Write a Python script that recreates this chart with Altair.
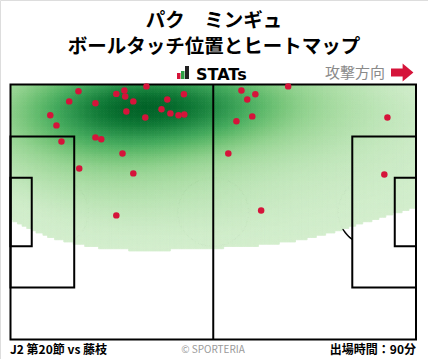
import altair as alt
import numpy as np
import pandas as pd

# ---- data: ball touch positions (metres, x: 0-105 left->right, y: 0-68 top->bottom)
touch_x = [17.6, 15.2, 10.3, 11.9, 13.2, 22.0, 27.4, 29.5, 29.7, 31.8, 30.0, 35.2,
           34.9, 39.1, 40.6, 44.9, 41.4, 43.5, 45.0, 22.0, 23.5, 29.0, 17.8, 31.8,
           27.4, 59.8, 63.4, 61.3, 71.9, 62.6, 58.5, 56.4, 97.6, 96.8, 64.9]
touch_y = [1.8, 4.5, 8.2, 10.9, 15.2, 5.0, 2.5, 1.6, 3.2, 4.5, 7.2, 0.5,
           8.8, 6.6, 4.0, 2.6, 7.7, 8.2, 8.0, 14.1, 14.6, 18.4, 22.4, 23.7,
           34.9, 1.6, 2.6, 4.0, 0.5, 8.5, 9.8, 18.4, 8.8, 24.0, 33.6]

title_lines = ["パク　ミンギュ", "ボールタッチ位置とヒートマップ"]
footer_left = "J2 第20節 vs 藤枝"
footer_mid = "© SPORTERIA"
footer_right = "出場時間：90分"
direction_label = "攻撃方向"
logo_label = "STATs"

FONT = "Noto Sans CJK JP"
W, H = 428, 359
PL, PW = 105.0, 68.0

# ---- kernel density estimate of the touches (full covariance kernel)
pts = np.array([touch_x, touch_y]).T
n = len(pts)
factor = 0.88
cov = np.cov(pts.T) * factor ** 2
inv = np.linalg.inv(cov)
norm = n * 2 * np.pi * np.sqrt(np.linalg.det(cov))
step = 0.6
gx = np.arange(0, PL, step)
gy = np.arange(0, PW, step)
GX, GY = np.meshgrid(gx + step / 2, gy + step / 2)
grid = np.stack([GX.ravel(), GY.ravel()], axis=1)
diff = grid[:, None, :] - pts[None, :, :]
energy = np.einsum("gni,ij,gnj->gn", diff, inv, diff) / 2
dens = np.exp(-energy).sum(axis=1) / norm
# iso-proportion levels: share of the mass lying at or below each cell's density
order = np.argsort(dens)
q = np.empty_like(dens)
q[order] = np.cumsum(dens[order]) / dens.sum()
tq = 0.014
mask = q >= tq
x0 = (GX.ravel() - step / 2)[mask]
y0 = (GY.ravel() - step / 2)[mask]
heat = pd.DataFrame({
    "x": np.round(x0, 2), "x2": np.round(np.minimum(x0 + step, PL), 2),
    "y": np.round(y0, 2), "y2": np.round(np.minimum(y0 + step, PW), 2),
    "q": np.round(q[mask], 4),
})

# ---- scales mapping the pitch into the page
sx = 405.5 / PL
sy = 255.0 / PW
xs = alt.Scale(domain=[-10.5 / sx, PL + 12.0 / sx], nice=False, zero=False)
ys = alt.Scale(domain=[-84.5 / sy, PW + 19.5 / sy], nice=False, zero=False, reverse=True)
X = lambda f: alt.X(f, type="quantitative", scale=xs, axis=None)
Y = lambda f: alt.Y(f, type="quantitative", scale=ys, axis=None)

# ---- pitch markings
boxes = pd.DataFrame({
    "x": [0, 0, 0, PL - 16.5, PL - 5.5],
    "x2": [PL, 16.5, 5.5, PL, PL],
    "y": [0, 13.84, 24.84, 13.84, 24.84],
    "y2": [PW, 54.16, 43.16, 54.16, 43.16],
})
halfway = pd.DataFrame({"x": [52.5], "y": [0], "y2": [PW]})

arc_rows = []
t = np.linspace(0, 2 * np.pi, 120)
for i, a in enumerate(t):
    arc_rows.append({"id": "c", "o": i, "x": 52.5 + 9.15 * np.cos(a), "y": 34 + 9.15 * np.sin(a)})
for cx, side, name in [(11.0, 1, "l"), (PL - 11.0, -1, "r")]:
    ang = np.arccos(5.5 / 9.15)
    for i, a in enumerate(np.linspace(-ang, ang, 40)):
        arc_rows.append({"id": name, "o": i, "x": cx + side * 9.15 * np.cos(a), "y": 34 + 9.15 * np.sin(a)})
arcs = pd.DataFrame(arc_rows)

arc_layer = alt.Chart(arcs).mark_line(color="black", strokeWidth=1.5).encode(
    x=X("x"), y=Y("y"), detail="id:N", order="o:Q")

heat_scale = alt.Scale(scheme="greens", domain=[tq, 1.0])
heat_layer = alt.Chart(heat).mark_rect(opacity=1, strokeWidth=0.8).encode(
    x=X("x"), x2="x2", y=Y("y"), y2="y2",
    color=alt.Color("q:Q", scale=heat_scale, legend=None),
    stroke=alt.Stroke("q:Q", scale=heat_scale, legend=None))

box_layer = alt.Chart(boxes).mark_rect(fill=None, stroke="black", strokeWidth=2, fillOpacity=0).encode(
    x=X("x"), x2="x2", y=Y("y"), y2="y2")
half_layer = alt.Chart(halfway).mark_rule(color="black", strokeWidth=2).encode(
    x=X("x"), y=Y("y"), y2="y2")

touch_df = pd.DataFrame({"x": touch_x, "y": touch_y})
pt_layer = alt.Chart(touch_df).mark_circle(color="#d5143a", opacity=1, size=42).encode(
    x=X("x"), y=Y("y"))

# ---- texts
one = pd.DataFrame({"a": [0]})
def txt(s, x, y, size, weight="normal", color="black", align="center", font=FONT, **kw):
    return alt.Chart(one).mark_text(text=s, fontSize=size, fontWeight=weight, color=color,
                                    align=align, baseline="alphabetic", font=font, **kw).encode(
        x=alt.value(x), y=alt.value(y))

t1 = txt(title_lines[0], 214, 27, 19.5, "bold")
t2 = txt(title_lines[1], 214, 53, 19.5, "bold")
logo = txt(logo_label, 196, 80, 16, "bold", align="left", font="DejaVu Sans")
dirt = txt(direction_label, 355, 78, 15, color="#8a8a8a")
f1 = txt(footer_left, 10, 354, 12, "bold", align="left")
f2 = txt(footer_mid, 213, 353, 10, color="#9a9a9a")
f3 = txt(footer_right, 416, 354, 12, "bold", align="right")

def deco_rect(x1, x2, y1, y2, color):
    return alt.Chart(one).mark_rect(color=color).encode(
        x=alt.value(x1), x2=alt.value(x2), y=alt.value(y1), y2=alt.value(y2))

bar_r = deco_rect(177, 180.5, 73, 79, "#d5143a")
bar_g = deco_rect(181, 184.5, 71, 79, "#2e9e44")
bar_k = deco_rect(185, 189, 66, 79, "#222222")
shaft = deco_rect(391, 404, 68.5, 76.5, "#d5143a")
head = alt.Chart(one).mark_point(shape="M-0.6,-1L0.6,0L-0.6,1Z", filled=True, opacity=1,
                                 color="#d5143a", size=324).encode(x=alt.value(408), y=alt.value(72.5))

chart = alt.layer(
    arc_layer, heat_layer, box_layer, half_layer, pt_layer,
    t1, t2, logo, bar_r, bar_g, bar_k, dirt, shaft, head, f1, f2, f3,
).properties(
    width=W, height=H, padding=0, autosize=alt.AutoSizeParams(type="none"),
).configure_view(stroke=None).configure(background="white")

chart.save("out.html", embed_options={"renderer": "svg", "actions": False})
